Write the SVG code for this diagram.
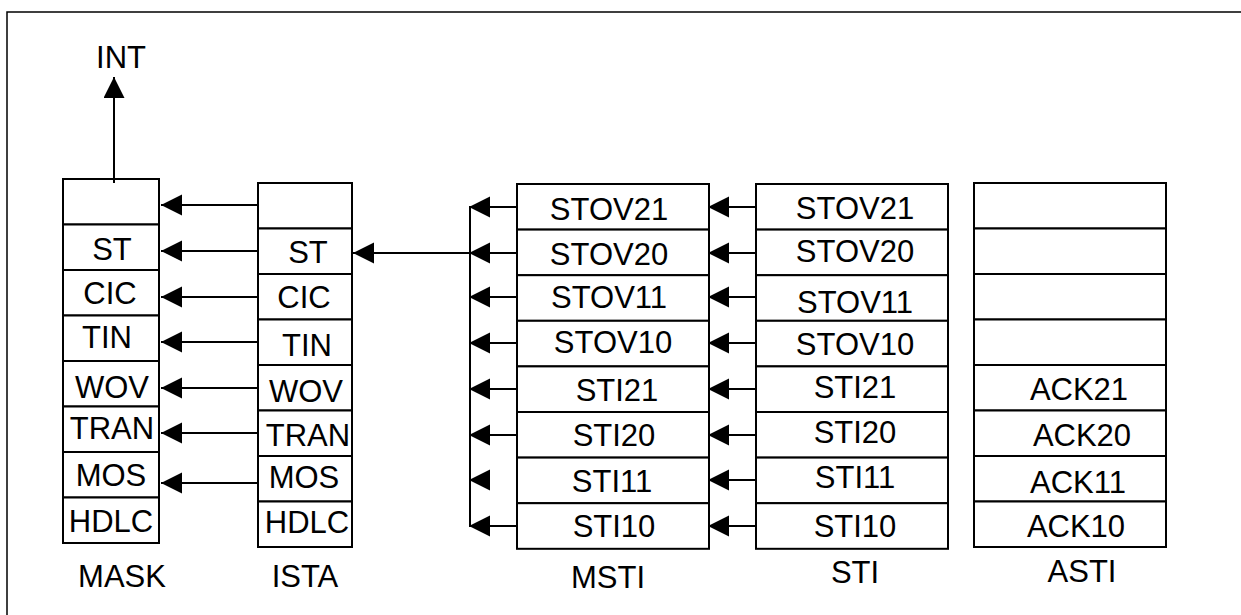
<svg xmlns="http://www.w3.org/2000/svg" width="1241" height="615" viewBox="0 0 1241 615">
<style>
.cell{fill:#fff;stroke:#000;stroke-width:2}
.frame{fill:none;stroke:#000;stroke-width:1.5}
.con{fill:none;stroke:#000;stroke-width:2}
text{font-family:"Liberation Sans",Arial,sans-serif;font-size:31px;fill:#000;text-anchor:middle}
</style>
<defs>
<marker id="ah" markerUnits="userSpaceOnUse" markerWidth="22" markerHeight="22" refX="21" refY="10.5" orient="auto" viewBox="0 0 22 22">
<path d="M0,0 L21,10.5 L0,21 z" fill="#000"/>
</marker>
</defs>
<rect width="1241" height="615" fill="#fff"/>
<path class="frame" d="M7,615 L7,12 L1241,12"/>

<g id="int">
<text x="121" y="68">INT</text>
</g>

<g id="mask">
<rect class="cell" x="63" y="179" width="96" height="45.5"/>
<rect class="cell" x="63" y="224.5" width="96" height="45.5"/>
<rect class="cell" x="63" y="270" width="96" height="45.5"/>
<rect class="cell" x="63" y="315.5" width="96" height="45.5"/>
<rect class="cell" x="63" y="361" width="96" height="45.5"/>
<rect class="cell" x="63" y="406.5" width="96" height="45.5"/>
<rect class="cell" x="63" y="452" width="96" height="45.5"/>
<rect class="cell" x="63" y="497.5" width="96" height="45.5"/>
<text x="112" y="260">ST</text>
<text x="110" y="304">CIC</text>
<text x="107" y="348">TIN</text>
<text x="112" y="398">WOV</text>
<text x="112" y="439">TRAN</text>
<text x="111" y="486">MOS</text>
<text x="111" y="532">HDLC</text>
<text x="122" y="587">MASK</text>
</g>

<g id="ista">
<rect class="cell" x="258" y="183" width="94" height="45.5"/>
<rect class="cell" x="258" y="228.5" width="94" height="45.5"/>
<rect class="cell" x="258" y="274" width="94" height="45.5"/>
<rect class="cell" x="258" y="319.5" width="94" height="45.5"/>
<rect class="cell" x="258" y="365" width="94" height="45.5"/>
<rect class="cell" x="258" y="410.5" width="94" height="45.5"/>
<rect class="cell" x="258" y="456" width="94" height="45.5"/>
<rect class="cell" x="258" y="501.5" width="94" height="45.5"/>
<text x="308" y="263">ST</text>
<text x="304" y="308">CIC</text>
<text x="307" y="356">TIN</text>
<text x="306" y="402">WOV</text>
<text x="308" y="446">TRAN</text>
<text x="304" y="488">MOS</text>
<text x="307" y="533">HDLC</text>
<text x="305" y="587">ISTA</text>
</g>

<g id="msti">
<rect class="cell" x="517" y="184" width="192" height="45.6"/>
<rect class="cell" x="517" y="229.6" width="192" height="45.6"/>
<rect class="cell" x="517" y="275.2" width="192" height="45.6"/>
<rect class="cell" x="517" y="320.8" width="192" height="45.6"/>
<rect class="cell" x="517" y="366.4" width="192" height="45.6"/>
<rect class="cell" x="517" y="412" width="192" height="45.6"/>
<rect class="cell" x="517" y="457.6" width="192" height="45.6"/>
<rect class="cell" x="517" y="503.2" width="192" height="45.6"/>
<text x="609" y="220">STOV21</text>
<text x="609" y="265">STOV20</text>
<text x="609" y="308">STOV11</text>
<text x="613" y="353">STOV10</text>
<text x="617" y="401">STI21</text>
<text x="614" y="446">STI20</text>
<text x="612" y="492">STI11</text>
<text x="614" y="537">STI10</text>
<text x="608" y="588">MSTI</text>
</g>

<g id="sti">
<rect class="cell" x="756" y="184" width="192" height="45.6"/>
<rect class="cell" x="756" y="229.6" width="192" height="45.6"/>
<rect class="cell" x="756" y="275.2" width="192" height="45.6"/>
<rect class="cell" x="756" y="320.8" width="192" height="45.6"/>
<rect class="cell" x="756" y="366.4" width="192" height="45.6"/>
<rect class="cell" x="756" y="412" width="192" height="45.6"/>
<rect class="cell" x="756" y="457.6" width="192" height="45.6"/>
<rect class="cell" x="756" y="503.2" width="192" height="45.6"/>
<text x="855" y="219">STOV21</text>
<text x="855" y="262">STOV20</text>
<text x="855" y="313">STOV11</text>
<text x="855" y="355">STOV10</text>
<text x="855" y="398">STI21</text>
<text x="855" y="443">STI20</text>
<text x="855" y="488">STI11</text>
<text x="855" y="537">STI10</text>
<text x="855" y="583">STI</text>
</g>

<g id="asti">
<rect class="cell" x="974" y="183" width="192" height="45.5"/>
<rect class="cell" x="974" y="228.5" width="192" height="45.5"/>
<rect class="cell" x="974" y="274" width="192" height="45.5"/>
<rect class="cell" x="974" y="319.5" width="192" height="45.5"/>
<rect class="cell" x="974" y="365" width="192" height="45.5"/>
<rect class="cell" x="974" y="410.5" width="192" height="45.5"/>
<rect class="cell" x="974" y="456" width="192" height="45.5"/>
<rect class="cell" x="974" y="501.5" width="192" height="45.5"/>
<text x="1079" y="400">ACK21</text>
<text x="1082" y="446">ACK20</text>
<text x="1078" y="493">ACK11</text>
<text x="1076" y="537">ACK10</text>
<text x="1082" y="582">ASTI</text>
</g>

<g id="connectors">
<line class="con" x1="114" y1="183" x2="114" y2="77" marker-end="url(#ah)"/>
<line class="con" x1="258" y1="205" x2="161" y2="205" marker-end="url(#ah)"/>
<line class="con" x1="258" y1="251" x2="161" y2="251" marker-end="url(#ah)"/>
<line class="con" x1="258" y1="297" x2="161" y2="297" marker-end="url(#ah)"/>
<line class="con" x1="258" y1="342" x2="161" y2="342" marker-end="url(#ah)"/>
<line class="con" x1="258" y1="388" x2="161" y2="388" marker-end="url(#ah)"/>
<line class="con" x1="258" y1="433" x2="161" y2="433" marker-end="url(#ah)"/>
<line class="con" x1="258" y1="483" x2="161" y2="483" marker-end="url(#ah)"/>
<line class="con" x1="498" y1="253" x2="353" y2="253" marker-end="url(#ah)"/>
<line class="con" x1="470" y1="207" x2="470" y2="526"/>
<line class="con" x1="517" y1="207" x2="469" y2="207" marker-end="url(#ah)"/>
<line class="con" x1="517" y1="253" x2="469" y2="253" marker-end="url(#ah)"/>
<line class="con" x1="517" y1="297" x2="469" y2="297" marker-end="url(#ah)"/>
<line class="con" x1="517" y1="343" x2="469" y2="343" marker-end="url(#ah)"/>
<line class="con" x1="517" y1="389" x2="469" y2="389" marker-end="url(#ah)"/>
<line class="con" x1="517" y1="435" x2="469" y2="435" marker-end="url(#ah)"/>
<line class="con" x1="490" y1="480" x2="469" y2="480" marker-end="url(#ah)"/>
<line class="con" x1="517" y1="526" x2="469" y2="526" marker-end="url(#ah)"/>
<line class="con" x1="756" y1="207" x2="708" y2="207" marker-end="url(#ah)"/>
<line class="con" x1="756" y1="253" x2="708" y2="253" marker-end="url(#ah)"/>
<line class="con" x1="756" y1="297" x2="708" y2="297" marker-end="url(#ah)"/>
<line class="con" x1="756" y1="343" x2="708" y2="343" marker-end="url(#ah)"/>
<line class="con" x1="756" y1="389" x2="708" y2="389" marker-end="url(#ah)"/>
<line class="con" x1="756" y1="435" x2="708" y2="435" marker-end="url(#ah)"/>
<line class="con" x1="756" y1="480" x2="708" y2="480" marker-end="url(#ah)"/>
<line class="con" x1="756" y1="526" x2="708" y2="526" marker-end="url(#ah)"/>
</g>
</svg>
